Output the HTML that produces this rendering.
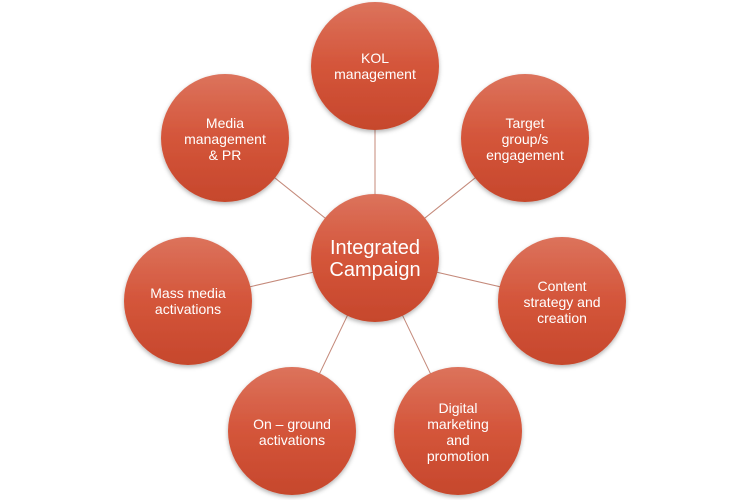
<!DOCTYPE html>
<html><head><style>
html,body{margin:0;padding:0;background:#fff;}
</style></head><body>
<svg width="750" height="500" viewBox="0 0 750 500" xmlns="http://www.w3.org/2000/svg" style="display:block">
<defs>
<linearGradient id="g" x1="0" y1="0" x2="0" y2="1">
<stop offset="0" stop-color="#dc735c"/>
<stop offset="0.5" stop-color="#d4553a"/>
<stop offset="1" stop-color="#c6472c"/>
</linearGradient>
<filter id="s" x="-20%" y="-20%" width="140%" height="140%">
<feDropShadow dx="0" dy="2" stdDeviation="2" flood-color="#000" flood-opacity="0.3"/>
</filter>
</defs>
<g stroke="#c4897a" stroke-width="1">
<line x1="375" y1="258" x2="375" y2="66"/>
<line x1="375" y1="258" x2="525" y2="138"/>
<line x1="375" y1="258" x2="562" y2="301"/>
<line x1="375" y1="258" x2="458" y2="431"/>
<line x1="375" y1="258" x2="292" y2="431"/>
<line x1="375" y1="258" x2="188" y2="301"/>
<line x1="375" y1="258" x2="225" y2="138"/>
</g>
<g fill="url(#g)" filter="url(#s)">
<circle cx="375" cy="258" r="64"/>
<circle cx="375" cy="66" r="64"/>
<circle cx="525" cy="138" r="64"/>
<circle cx="562" cy="301" r="64"/>
<circle cx="458" cy="431" r="64"/>
<circle cx="292" cy="431" r="64"/>
<circle cx="188" cy="301" r="64"/>
<circle cx="225" cy="138" r="64"/>
</g>
<g fill="#fff" font-family="Liberation Sans, sans-serif" font-size="14" text-anchor="middle">
<text x="375" y="254" font-size="20">Integrated</text>
<text x="375" y="276" font-size="20">Campaign</text>
<text x="375" y="63">KOL</text>
<text x="375" y="79">management</text>
<text x="525" y="128">Target</text>
<text x="525" y="144">group/s</text>
<text x="525" y="160">engagement</text>
<text x="562" y="291">Content</text>
<text x="562" y="307">strategy and</text>
<text x="562" y="323">creation</text>
<text x="458" y="413">Digital</text>
<text x="458" y="429">marketing</text>
<text x="458" y="445">and</text>
<text x="458" y="461">promotion</text>
<text x="292" y="429">On – ground</text>
<text x="292" y="445">activations</text>
<text x="188" y="298">Mass media</text>
<text x="188" y="314">activations</text>
<text x="225" y="128">Media</text>
<text x="225" y="144">management</text>
<text x="225" y="160">&amp; PR</text>
</g>
</svg>
</body></html>
